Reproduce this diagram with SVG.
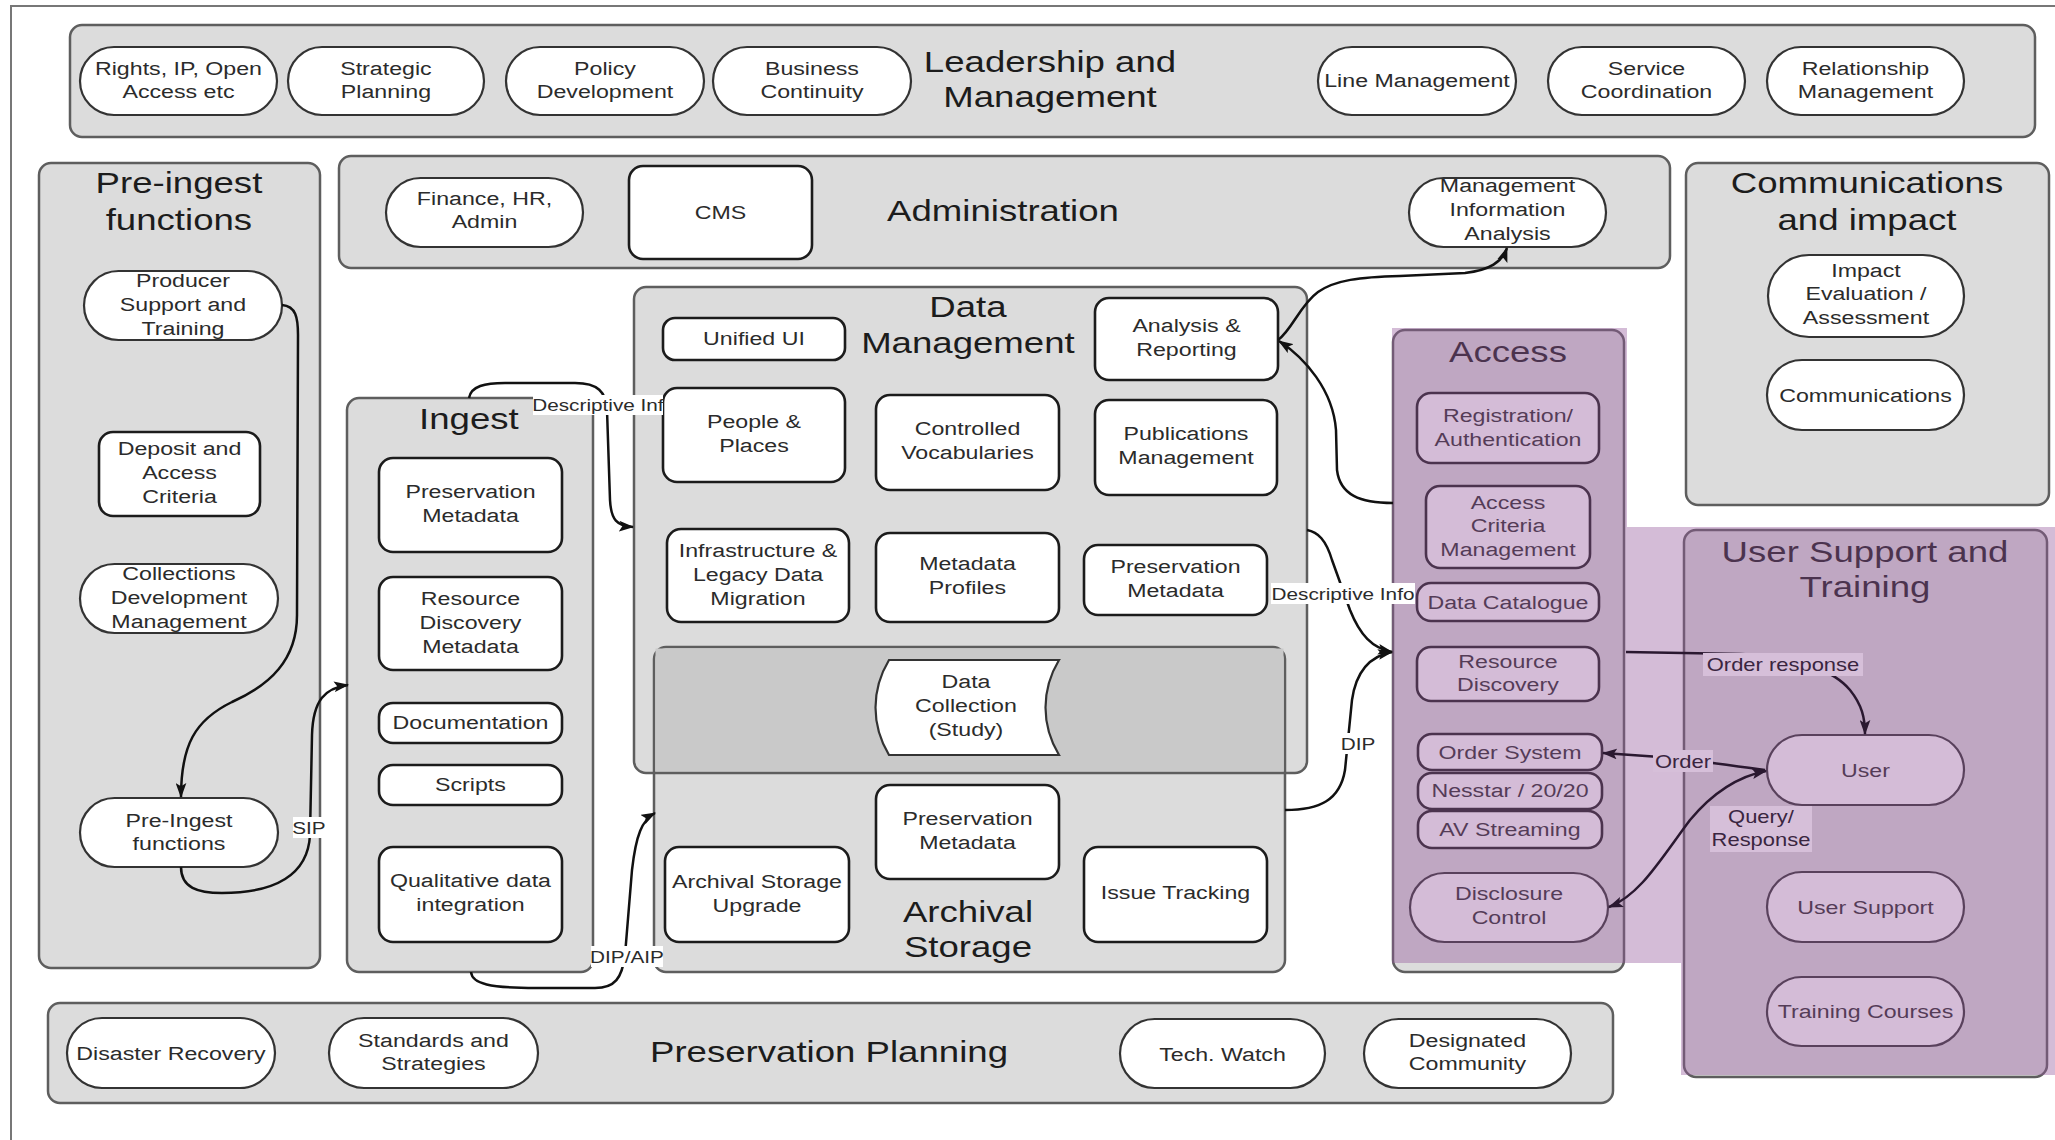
<svg xmlns="http://www.w3.org/2000/svg" width="2055" height="1140" viewBox="0 0 2055 1140">
<style>
.grp{fill:#dcdcdc;stroke:#5e5e5e;stroke-width:2.5}
.nd{fill:#fff;stroke:#1c1c1c;stroke-width:2.6}
.pl{fill:#fff;stroke:#333;stroke-width:2.2}
text{font-family:"Liberation Sans",Arial,Helvetica,sans-serif;fill:#2b2b2b;text-anchor:middle;transform-box:fill-box;transform-origin:center;transform:scaleX(1.22)}
.s{font-size:19px}
.h{font-size:30px;fill:#1c1c1c}
.l{font-size:17px}
.lo{font-size:18px;fill:#3a2540}
.c{fill:none;stroke:#111;stroke-width:2.5}
.cp{fill:none;stroke:#2a1830;stroke-width:2.5}
.lb{fill:#fff}
.lbp{fill:#d6bfd9}
</style>
<defs>
<marker id="ah" viewBox="0 0 14 10" refX="13" refY="5" markerWidth="15" markerHeight="11" markerUnits="userSpaceOnUse" orient="auto-start-reverse"><path d="M0,0 L14,5 L0,10 L3,5 z" fill="#111"/></marker>
<marker id="ahp" viewBox="0 0 14 10" refX="13" refY="5" markerWidth="15" markerHeight="11" markerUnits="userSpaceOnUse" orient="auto-start-reverse"><path d="M0,0 L14,5 L0,10 L3,5 z" fill="#2a1830"/></marker>
</defs>
<rect width="2055" height="1140" fill="#fff"/>
<rect x="11" y="6" width="2100" height="1200" fill="none" stroke="#777" stroke-width="2"/>

<!-- Leadership and Management -->
<g id="leadership">
<rect class="grp" x="70" y="25" width="1965" height="112" rx="12"/>
<text class="h"><tspan x="1050" y="72">Leadership and</tspan><tspan x="1050" y="107">Management</tspan></text>
</g>
<g id="rights"><rect class="pl" x="80" y="47" width="197" height="68" rx="34"/><text class="s"><tspan x="178.5" y="75">Rights, IP, Open</tspan><tspan x="178.5" y="98">Access etc</tspan></text></g>
<g id="strategic"><rect class="pl" x="288" y="47" width="196" height="68" rx="34"/><text class="s"><tspan x="386" y="75">Strategic</tspan><tspan x="386" y="98">Planning</tspan></text></g>
<g id="policy"><rect class="pl" x="506" y="47" width="198" height="68" rx="34"/><text class="s"><tspan x="605" y="75">Policy</tspan><tspan x="605" y="98">Development</tspan></text></g>
<g id="business"><rect class="pl" x="713" y="47" width="198" height="68" rx="34"/><text class="s"><tspan x="812" y="75">Business</tspan><tspan x="812" y="98">Continuity</tspan></text></g>
<g id="linemgmt"><rect class="pl" x="1318" y="47" width="198" height="68" rx="34"/><text class="s" x="1417" y="87">Line Management</text></g>
<g id="service"><rect class="pl" x="1548" y="47" width="197" height="68" rx="34"/><text class="s"><tspan x="1646.5" y="75">Service</tspan><tspan x="1646.5" y="98">Coordination</tspan></text></g>
<g id="relationship"><rect class="pl" x="1767" y="47" width="197" height="68" rx="34"/><text class="s"><tspan x="1865.5" y="75">Relationship</tspan><tspan x="1865.5" y="98">Management</tspan></text></g>

<!-- Administration -->
<g id="administration">
<rect class="grp" x="339" y="156" width="1331" height="112" rx="12"/>
<text class="h" x="1003" y="221">Administration</text>
</g>
<g id="finance"><rect class="pl" x="386" y="178" width="197" height="69" rx="34.5"/><text class="s"><tspan x="484.5" y="205">Finance, HR,</tspan><tspan x="484.5" y="228">Admin</tspan></text></g>
<g id="cms"><rect class="nd" x="629" y="166" width="183" height="93" rx="14"/><text class="s" x="720.5" y="219">CMS</text></g>
<g id="mia"><rect class="pl" x="1409" y="178" width="197" height="69" rx="34.5"/><text class="s"><tspan x="1507.5" y="192">Management</tspan><tspan x="1507.5" y="216">Information</tspan><tspan x="1507.5" y="240">Analysis</tspan></text></g>

<!-- Pre-ingest -->
<g id="preingest-box">
<rect class="grp" x="39" y="163" width="281" height="805" rx="12"/>
<text class="h"><tspan x="179" y="193">Pre-ingest</tspan><tspan x="179" y="230">functions</tspan></text>
</g>
<g id="producer"><rect class="pl" x="84" y="271" width="198" height="69" rx="34.5"/><text class="s"><tspan x="183" y="287">Producer</tspan><tspan x="183" y="311">Support and</tspan><tspan x="183" y="335">Training</tspan></text></g>
<g id="deposit"><rect class="nd" x="99" y="432" width="161" height="84" rx="14"/><text class="s"><tspan x="179.5" y="455">Deposit and</tspan><tspan x="179.5" y="479">Access</tspan><tspan x="179.5" y="503">Criteria</tspan></text></g>
<g id="collections"><rect class="pl" x="80" y="564" width="198" height="69" rx="34.5"/><text class="s"><tspan x="179" y="580">Collections</tspan><tspan x="179" y="604">Development</tspan><tspan x="179" y="628">Management</tspan></text></g>
<g id="preingest-fn"><rect class="pl" x="80" y="798" width="198" height="69" rx="34.5"/><text class="s"><tspan x="179" y="827">Pre-Ingest</tspan><tspan x="179" y="850">functions</tspan></text></g>

<!-- Ingest -->
<g id="ingest-box">
<rect class="grp" x="347" y="398" width="246" height="574" rx="12"/>
<text class="h" x="469" y="429">Ingest</text>
</g>
<g id="ing-pm"><rect class="nd" x="379" y="458" width="183" height="94" rx="14"/><text class="s"><tspan x="470.5" y="498">Preservation</tspan><tspan x="470.5" y="522">Metadata</tspan></text></g>
<g id="ing-rdm"><rect class="nd" x="379" y="577" width="183" height="93" rx="14"/><text class="s"><tspan x="470.5" y="605">Resource</tspan><tspan x="470.5" y="629">Discovery</tspan><tspan x="470.5" y="653">Metadata</tspan></text></g>
<g id="ing-doc"><rect class="nd" x="379" y="703" width="183" height="40" rx="14"/><text class="s" x="470.5" y="729">Documentation</text></g>
<g id="ing-scripts"><rect class="nd" x="379" y="765" width="183" height="40" rx="14"/><text class="s" x="470.5" y="791">Scripts</text></g>
<g id="ing-qdi"><rect class="nd" x="379" y="847" width="183" height="95" rx="14"/><text class="s"><tspan x="470.5" y="887">Qualitative data</tspan><tspan x="470.5" y="911">integration</tspan></text></g>

<!-- Data Management + Archival Storage -->
<g id="dm-box">
<rect class="grp" x="634" y="287" width="673" height="486" rx="12"/>
<text class="h"><tspan x="968" y="317">Data</tspan><tspan x="968" y="353">Management</tspan></text>
</g>
<g id="as-box">
<rect class="grp" x="654" y="647" width="631" height="325" rx="12"/>
<rect x="655.5" y="648.5" width="628" height="123" fill="#c9c9c9"/>
<line x1="654" y1="773" x2="1285" y2="773" stroke="#5e5e5e" stroke-width="2.5"/>
<text class="h"><tspan x="968" y="922">Archival</tspan><tspan x="968" y="957">Storage</tspan></text>
</g>
<g id="unified"><rect class="nd" x="663" y="318" width="182" height="42" rx="12"/><text class="s" x="754" y="345">Unified UI</text></g>
<g id="analysis"><rect class="nd" x="1095" y="298" width="183" height="82" rx="14"/><text class="s"><tspan x="1186.5" y="332">Analysis &amp;</tspan><tspan x="1186.5" y="356">Reporting</tspan></text></g>
<g id="people"><rect class="nd" x="663" y="388" width="182" height="94" rx="14"/><text class="s"><tspan x="754" y="428">People &amp;</tspan><tspan x="754" y="452">Places</tspan></text></g>
<g id="vocab"><rect class="nd" x="876" y="395" width="183" height="95" rx="14"/><text class="s"><tspan x="967.5" y="435">Controlled</tspan><tspan x="967.5" y="459">Vocabularies</tspan></text></g>
<g id="pubs"><rect class="nd" x="1095" y="400" width="182" height="95" rx="14"/><text class="s"><tspan x="1186" y="440">Publications</tspan><tspan x="1186" y="464">Management</tspan></text></g>
<g id="infra"><rect class="nd" x="667" y="529" width="182" height="93" rx="14"/><text class="s"><tspan x="758" y="557">Infrastructure &amp;</tspan><tspan x="758" y="581">Legacy Data</tspan><tspan x="758" y="605">Migration</tspan></text></g>
<g id="mprofiles"><rect class="nd" x="876" y="533" width="183" height="89" rx="14"/><text class="s"><tspan x="967.5" y="570">Metadata</tspan><tspan x="967.5" y="594">Profiles</tspan></text></g>
<g id="dm-pm"><rect class="nd" x="1084" y="545" width="183" height="70" rx="14"/><text class="s"><tspan x="1175.5" y="573">Preservation</tspan><tspan x="1175.5" y="597">Metadata</tspan></text></g>
<g id="datacoll"><path class="pl" d="M889,660 L1059,660 C1041,690 1041,725 1059,755 L889,755 C871,725 871,690 889,660 Z"/><text class="s"><tspan x="966" y="688">Data</tspan><tspan x="966" y="712">Collection</tspan><tspan x="966" y="736">(Study)</tspan></text></g>
<g id="asu"><rect class="nd" x="665" y="847" width="184" height="95" rx="14"/><text class="s"><tspan x="757" y="888">Archival Storage</tspan><tspan x="757" y="912">Upgrade</tspan></text></g>
<g id="as-pm"><rect class="nd" x="876" y="785" width="183" height="94" rx="14"/><text class="s"><tspan x="967.5" y="825">Preservation</tspan><tspan x="967.5" y="849">Metadata</tspan></text></g>
<g id="issue"><rect class="nd" x="1084" y="847" width="183" height="95" rx="14"/><text class="s" x="1175.5" y="899">Issue Tracking</text></g>

<!-- Access -->
<g id="access-box">
<rect class="grp" x="1393" y="330" width="231" height="642" rx="12"/>
<text class="h" x="1508" y="362">Access</text>
</g>
<g id="reg"><rect class="nd" x="1417" y="393" width="182" height="70" rx="14"/><text class="s"><tspan x="1508" y="422">Registration/</tspan><tspan x="1508" y="446">Authentication</tspan></text></g>
<g id="acm"><rect class="nd" x="1426" y="486" width="164" height="82" rx="14"/><text class="s"><tspan x="1508" y="509">Access</tspan><tspan x="1508" y="532">Criteria</tspan><tspan x="1508" y="556">Management</tspan></text></g>
<g id="datacat"><rect class="nd" x="1417" y="583" width="182" height="38" rx="14"/><text class="s" x="1508" y="609">Data Catalogue</text></g>
<g id="resdisc"><rect class="nd" x="1417" y="647" width="182" height="54" rx="14"/><text class="s"><tspan x="1508" y="668">Resource</tspan><tspan x="1508" y="691">Discovery</tspan></text></g>
<g id="ordersys"><rect class="nd" x="1418" y="734" width="184" height="36" rx="14"/><text class="s" x="1510" y="759">Order System</text></g>
<g id="nesstar"><rect class="nd" x="1418" y="773" width="184" height="36" rx="14"/><text class="s" x="1510" y="797">Nesstar / 20/20</text></g>
<g id="av"><rect class="nd" x="1418" y="811" width="184" height="37" rx="14"/><text class="s" x="1510" y="836">AV Streaming</text></g>
<g id="disclosure"><rect class="pl" x="1410" y="873" width="198" height="69" rx="34.5"/><text class="s"><tspan x="1509" y="900">Disclosure</tspan><tspan x="1509" y="924">Control</tspan></text></g>

<!-- Communications and impact -->
<g id="comms-box">
<rect class="grp" x="1686" y="163" width="363" height="342" rx="12"/>
<text class="h"><tspan x="1867" y="193">Communications</tspan><tspan x="1867" y="230">and impact</tspan></text>
</g>
<g id="impact"><rect class="pl" x="1768" y="255" width="196" height="82" rx="41"/><text class="s"><tspan x="1866" y="277">Impact</tspan><tspan x="1866" y="300">Evaluation /</tspan><tspan x="1866" y="324">Assessment</tspan></text></g>
<g id="communications"><rect class="pl" x="1767" y="360" width="197" height="70" rx="35"/><text class="s" x="1865.5" y="402">Communications</text></g>

<!-- User Support and Training -->
<g id="usersupport-box">
<rect class="grp" x="1684" y="530" width="363" height="547" rx="12"/>
<text class="h"><tspan x="1865" y="562">User Support and</tspan><tspan x="1865" y="597">Training</tspan></text>
</g>
<g id="user"><rect class="pl" x="1767" y="735" width="197" height="70" rx="35"/><text class="s" x="1865.5" y="777">User</text></g>
<g id="usersupport"><rect class="pl" x="1767" y="872" width="197" height="70" rx="35"/><text class="s" x="1865.5" y="914">User Support</text></g>
<g id="training"><rect class="pl" x="1767" y="977" width="197" height="69" rx="34.5"/><text class="s" x="1865.5" y="1018">Training Courses</text></g>

<!-- Preservation Planning -->
<g id="pp-box">
<rect class="grp" x="48" y="1003" width="1565" height="100" rx="12"/>
<text class="h" x="829" y="1062">Preservation Planning</text>
</g>
<g id="disaster"><rect class="pl" x="67" y="1018" width="208" height="70" rx="35"/><text class="s" x="171" y="1060">Disaster Recovery</text></g>
<g id="standards"><rect class="pl" x="329" y="1018" width="209" height="70" rx="35"/><text class="s"><tspan x="433.5" y="1047">Standards and</tspan><tspan x="433.5" y="1070">Strategies</tspan></text></g>
<g id="techwatch"><rect class="pl" x="1120" y="1019" width="205" height="69" rx="34.5"/><text class="s" x="1222.5" y="1061">Tech. Watch</text></g>
<g id="designated"><rect class="pl" x="1364" y="1019" width="207" height="69" rx="34.5"/><text class="s"><tspan x="1467.5" y="1047">Designated</tspan><tspan x="1467.5" y="1070">Community</tspan></text></g>

<!-- purple highlight -->
<polygon id="highlight" points="1392,328 1627,328 1627,527 2055,527 2055,1075 1681,1075 1681,963 1392,963" fill="#93579b" fill-opacity="0.4"/>

<!-- connectors -->
<g id="connectors">
<path class="c" d="M282,305 C296,306 298,318 298,335 L297,615 C297,660 270,685 232,702 C195,720 181,745 181,797" marker-end="url(#ah)"/>
<path class="c" d="M181,867 C181,888 198,893 222,893 C275,893 308,875 310,835 L312,735 C313,700 325,688 348,685" marker-end="url(#ah)"/>
<path class="c" d="M469,398 C471,386 485,383 505,383 L575,383 C598,383 606,392 607,410 L610,500 C611,520 617,526 633,527" marker-end="url(#ah)"/>
<path class="c" d="M471,972 C472,984 490,988 536,988 L595,988 C615,988 622,978 625,955 L632,870 C636,835 642,820 655,813" marker-end="url(#ah)"/>
<path class="c" d="M1278,340 C1292,330 1300,305 1318,292 C1335,280 1360,277 1400,276 L1465,273 C1490,270 1502,262 1507,248" marker-end="url(#ah)"/>
<path class="c" d="M1393,503 C1360,503 1340,495 1337,470 L1336,430 C1333,390 1305,358 1279,341" marker-end="url(#ah)"/>
<path class="c" d="M1307,530 C1318,532 1326,540 1332,560 L1350,610 C1360,635 1372,648 1392,652" marker-end="url(#ah)"/>
<path class="c" d="M1285,810 C1320,810 1340,800 1345,770 L1352,700 C1356,672 1370,656 1392,652" marker-end="url(#ah)"/>
<path class="cp" d="M1626,652 L1740,654 C1800,656 1835,672 1850,690 C1862,705 1865,718 1865,734" marker-end="url(#ahp)"/>
<path class="cp" d="M1765,770 C1730,766 1700,760 1660,757 L1603,753" marker-end="url(#ahp)"/>
<path class="cp" d="M1609,907 C1640,895 1660,860 1690,820 C1715,790 1740,776 1766,771" marker-start="url(#ahp)" marker-end="url(#ahp)"/>

<rect class="lb" x="293" y="817" width="32" height="21"/>
<text class="l" x="309" y="834">SIP</text>
<rect class="lb" x="533" y="395" width="130" height="20"/>
<text class="l" x="598" y="411">Descriptive Inf</text>
<rect class="lb" x="591" y="946" width="72" height="21"/>
<text class="l" x="627" y="963">DIP/AIP</text>
<rect class="lb" x="1271" y="583" width="144" height="21"/>
<text class="l" x="1343" y="600">Descriptive Info</text>
<rect class="lb" x="1341" y="733" width="34" height="21"/>
<text class="l" x="1358" y="750">DIP</text>
<rect class="lbp" x="1703" y="653" width="160" height="23"/>
<text class="lo" x="1783" y="671">Order response</text>
<rect class="lbp" x="1653" y="750" width="60" height="22"/>
<text class="lo" x="1683" y="768">Order</text>
<rect class="lbp" x="1710" y="806" width="102" height="46"/>
<text class="lo"><tspan x="1761" y="823">Query/</tspan><tspan x="1761" y="846">Response</tspan></text>
</g>
</svg>
